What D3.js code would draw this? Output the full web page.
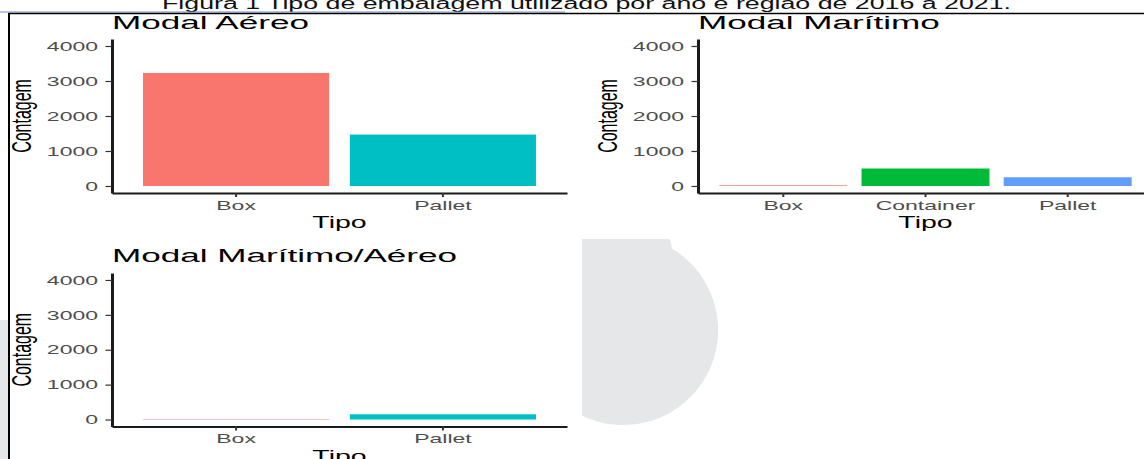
<!DOCTYPE html>
<html>
<head>
<meta charset="utf-8">
<script src="https://cdn.jsdelivr.net/npm/d3@7"></script>
<style>
  html, body { margin: 0; padding: 0; background: #fff; overflow: hidden; }
  svg { display: block; }
</style>
</head>
<body>
<svg id="fig" width="1144" height="459"></svg>
<script>
// ---- data ----
const aereoTipos = ["Box", "Pallet"];
const aereoContagem = [3230, 1470];

const maritimoTipos = ["Box", "Container", "Pallet"];
const maritimoContagem = [20, 500, 250];

const mistoTipos = ["Box", "Pallet"];
const mistoContagem = [12, 150];

const contagemTicks = [0, 1000, 2000, 3000, 4000];
const titulos = ["Modal Aéreo", "Modal Marítimo", "Modal Marítimo/Aéreo"];
const legenda = "Figura 1 Tipo de embalagem utilizado por ano e região de 2016 a 2021.";
const rotuloX = "Tipo";
const rotuloY = "Contagem";

// ---- styling ----
const FONT = "'Liberation Sans', Arial, Helvetica, sans-serif";
const cores2 = ["#F8766D", "#00BFC4"];
const cores3 = ["#F8766D", "#00BA38", "#619CFF"];
const SX_TITLE = 1.95, SX_AXTITLE = 1.78, SX_TICK = 1.77;

const svg = d3.select("#fig");

// page decoration behind the figure
svg.append("rect").attr("x", 0).attr("y", 320).attr("width", 8).attr("height", 139).attr("fill", "#e6e7e8");
svg.append("path")
  .attr("d", "M582,239H670L672,248.6A95,95 0 0,1 582,415.7Z")
  .attr("fill", "#e6e7e8");

// caption and frame
svg.append("text")
  .attr("x", 162).attr("y", 8.5)
  .attr("font-family", FONT).attr("font-size", 16)
  .attr("textLength", 849).attr("lengthAdjust", "spacingAndGlyphs")
  .attr("fill", "#111")
  .text(legenda);
svg.append("line").attr("x1", 0).attr("x2", 565).attr("y1", 12).attr("y2", 12)
  .attr("stroke", "#7090cc").attr("stroke-width", 1);
svg.append("line").attr("x1", 8).attr("x2", 1144).attr("y1", 13.5).attr("y2", 13.5)
  .attr("stroke", "#000").attr("stroke-width", 1.6);
svg.append("line").attr("x1", 9).attr("x2", 9).attr("y1", 13).attr("y2", 459)
  .attr("stroke", "#000").attr("stroke-width", 2);

// one bar panel
function painel(cfg, tipos, valores, cores, titulo) {
  const x = d3.scaleBand().domain(tipos).range([cfg.left, cfg.right])
    .paddingInner(0.1).paddingOuter(0.15);
  const y = d3.scaleLinear().domain([-200, 4200]).range([cfg.bottom, cfg.top]);
  const g = svg.append("g");

  g.selectAll("rect.bar").data(tipos).join("rect")
    .attr("class", "bar")
    .attr("x", d => x(d))
    .attr("width", x.bandwidth())
    .attr("y", (d, i) => y(valores[i]))
    .attr("height", (d, i) => y(0) - y(valores[i]))
    .attr("fill", (d, i) => cores[i]);

  // y axis
  const ya = g.append("g")
    .attr("transform", `translate(${cfg.left},0)`)
    .call(d3.axisLeft(y).tickValues(contagemTicks).tickSize(6.5).tickSizeOuter(0).tickFormat(d3.format("d")));
  ya.attr("font-family", null).attr("font-size", null);
  ya.select(".domain").attr("stroke", "#1a1a1a").attr("stroke-width", 3);
  ya.selectAll(".tick line").attr("stroke", "#333").attr("stroke-width", 1.2);
  ya.selectAll(".tick text")
    .attr("x", -14 / SX_TICK)
    .attr("transform", `scale(${SX_TICK},1)`)
    .attr("font-family", FONT).attr("font-size", 13).attr("fill", "#4d4d4d");

  // x axis
  const xa = g.append("g")
    .attr("transform", `translate(0,${cfg.bottom})`)
    .call(d3.axisBottom(x).tickSize(4).tickSizeOuter(0));
  xa.attr("font-family", null).attr("font-size", null);
  xa.select(".domain").attr("stroke", "#1a1a1a").attr("stroke-width", 2);
  xa.selectAll(".tick line").attr("stroke", "#333").attr("stroke-width", 2);
  xa.selectAll(".tick text")
    .attr("y", 17).attr("dy", 0)
    .attr("transform", `scale(${SX_TICK},1)`)
    .attr("font-family", FONT).attr("font-size", 13).attr("fill", "#4d4d4d");

  // titles
  g.append("text")
    .attr("transform", `translate(${cfg.left},${cfg.bottom - 164.5}) scale(${SX_TITLE},1)`)
    .attr("font-family", FONT).attr("font-size", 18).attr("fill", "#000")
    .text(titulo);
  g.append("text")
    .attr("transform", `translate(${(cfg.left + cfg.right) / 2},${cfg.bottom + 35}) scale(${SX_AXTITLE},1)`)
    .attr("text-anchor", "middle")
    .attr("font-family", FONT).attr("font-size", 16).attr("fill", "#000")
    .text(rotuloX);
  g.append("text")
    .attr("transform", `translate(${cfg.left - 81},${(cfg.top + cfg.bottom) / 2}) scale(${SX_AXTITLE},1) rotate(-90)`)
    .attr("text-anchor", "middle")
    .attr("font-family", FONT).attr("font-size", 16).attr("fill", "#000")
    .text(rotuloY);
}

painel({ left: 112, right: 567, top: 39, bottom: 193 }, aereoTipos, aereoContagem, cores2, titulos[0]);
painel({ left: 698, right: 1153, top: 39, bottom: 193 }, maritimoTipos, maritimoContagem, cores3, titulos[1]);
painel({ left: 112, right: 567, top: 273, bottom: 426.5 }, mistoTipos, mistoContagem, cores2, titulos[2]);
</script>
</body>
</html>
